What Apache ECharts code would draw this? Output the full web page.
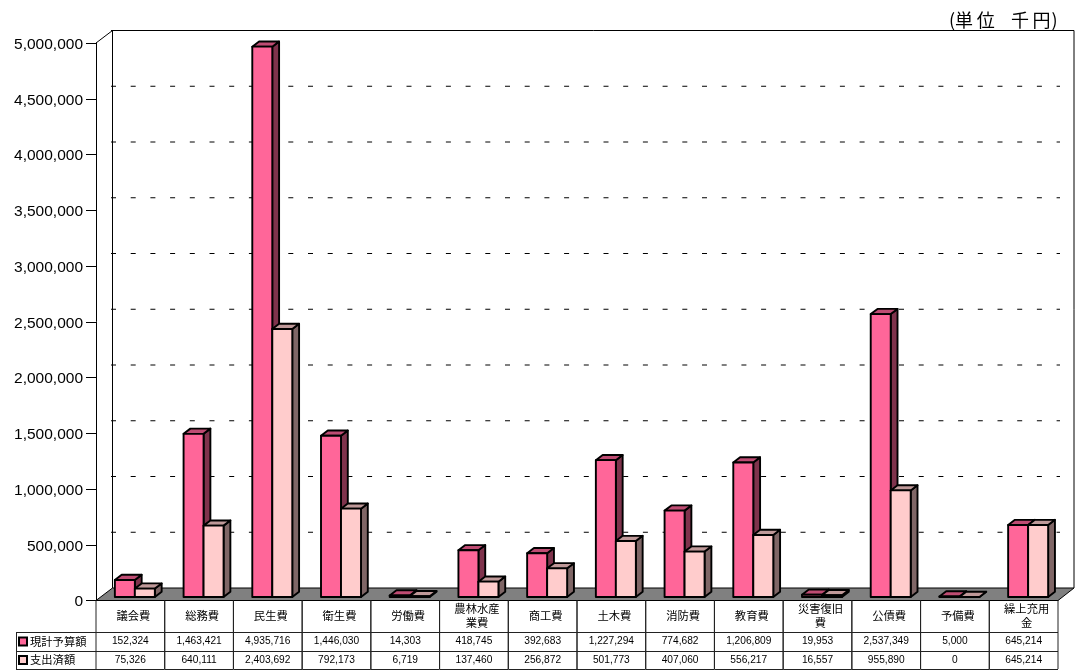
<!DOCTYPE html>
<html><head><meta charset="utf-8">
<style>html,body{margin:0;padding:0;background:#fff}#c{width:1081px;height:670px}</style>
<script src="https://cdn.jsdelivr.net/npm/echarts@6/dist/echarts.min.js"></script>
</head><body><div id="c"></div>
<script>
const categories = ['議会費','総務費','民生費','衛生費','労働費','農林水産\n業費','商工費','土木費','消防費','教育費','災害復旧\n費','公債費','予備費','繰上充用\n金'];
const budget = [152324,1463421,4935716,1446030,14303,418745,392683,1227294,774682,1206809,19953,2537349,5000,645214];
const spent = [75326,640111,2403692,792173,6719,137460,256872,501773,407060,556217,16557,955890,0,645214];
const yTicks = [500000,1000000,1500000,2000000,2500000,3000000,3500000,4000000,4500000,5000000];
const seriesNames = ['現計予算額','支出済額'];
const unitLabel = '(単\u2009位\u2002\u2009\u2009千\u2009円\u200a)';
const LATIN = '"Liberation Sans", Arial, sans-serif';
const CJK = '"Noto Sans CJK JP", sans-serif';
const WALL_DX = 16, WALL_DY = -12.5;
const fmt = v => v.toLocaleString('en-US');

function bar3d(seriesIdx, colors) {
  return function (params, api) {
    const i = api.value(0), val = api.value(1);
    const band = api.size([1, 0])[0];
    const w = band * 0.291, dep = 4.5, depY = -3.5, bx = 6.8, by = -5.2;
    const c = api.coord([i, val]), z = api.coord([i, 0]);
    const x0 = c[0] + dep + (seriesIdx === 0 ? -w : 0), x1 = x0 + w;
    const yT = c[1] + depY, yB = z[1] + depY;
    const st = f => ({ fill: f, stroke: '#000', lineWidth: 1.9, lineJoin: 'round' });
    return { type: 'group', children: [
      { type: 'polygon', shape: { points: [[x1, yT], [x1 + bx, yT + by], [x1 + bx, yB + by], [x1, yB]] }, style: st(colors[1]) },
      { type: 'polygon', shape: { points: [[x0, yT], [x0 + bx, yT + by], [x1 + bx, yT + by], [x1, yT]] }, style: st(colors[2]) },
      { type: 'rect', shape: { x: x0, y: yT, width: w, height: yB - yT }, style: st(colors[0]) }
    ] };
  };
}

function renderWall(params, api) {
  const cs = params.coordSys;
  const y0 = api.coord([0, 0])[1], yTop = api.coord([0, 5000000])[1];
  const lx = Math.round(cs.x + WALL_DX) + 0.5, rx = cs.x + cs.width + WALL_DX;
  const backY0 = y0 + WALL_DY, backTop = yTop + WALL_DY;
  const ln = { stroke: '#000', lineWidth: 1, fill: null };
  return { type: 'group', children: [
    { type: 'polygon', shape: { points: [[cs.x, y0], [cs.x + cs.width, y0], [rx, backY0], [lx, backY0]] }, style: { fill: '#808080', stroke: '#000', lineWidth: 1 } },
    { type: 'polyline', shape: { points: [[lx, backY0], [lx, backTop], [rx, backTop], [rx, backY0]] }, style: ln },
    { type: 'line', shape: { x1: cs.x, y1: yTop, x2: lx, y2: backTop }, style: ln }
  ] };
}

function renderGrid(params, api) {
  const cs = params.coordSys;
  const y = api.coord([0, api.value(1)])[1] + WALL_DY;
  return { type: 'line', shape: { x1: cs.x + WALL_DX - 1, y1: y, x2: cs.x + cs.width + 2, y2: y },
    style: { stroke: '#000', lineWidth: 1, lineDash: [5, 14.7] } };
}

function renderTableCell(params, api) {
  const i = api.value(0), band = api.size([1, 0])[0];
  const c = api.coord([i, 0]);
  const top = c[1], r1 = 632, r2 = 651, r3 = 669;
  const lx = c[0] - band / 2, rx = c[0] + band / 2;
  const ln = { stroke: '#222', lineWidth: 1 };
  const kids = [
    { type: 'line', shape: { x1: lx, y1: top, x2: lx, y2: r3 }, style: ln },
    { type: 'line', shape: { x1: rx, y1: top, x2: rx, y2: r3 }, style: ln },
    { type: 'line', shape: { x1: lx, y1: r1 + .5, x2: rx, y2: r1 + .5 }, style: ln },
    { type: 'line', shape: { x1: lx, y1: r2 + .5, x2: rx, y2: r2 + .5 }, style: ln },
    { type: 'line', shape: { x1: lx, y1: r3 + .5, x2: rx, y2: r3 + .5 }, style: ln },
    { type: 'text', style: { text: fmt(budget[i]), x: c[0], y: 641.5, align: 'center', verticalAlign: 'middle', font: '10.2px ' + LATIN, fill: '#000' } },
    { type: 'text', style: { text: fmt(spent[i]), x: c[0], y: 660, align: 'center', verticalAlign: 'middle', font: '10.2px ' + LATIN, fill: '#000' } }
  ];
  if (i === 0) {
    [r1, r2, r3].forEach(y => kids.push({ type: 'line', shape: { x1: 16.5, y1: y + .5, x2: lx, y2: y + .5 }, style: ln }));
    kids.push({ type: 'line', shape: { x1: 16.5, y1: r1, x2: 16.5, y2: r3 + 1 }, style: ln });
  }
  return { type: 'group', children: kids };
}

const chart = echarts.init(document.getElementById('c'), null, { renderer: 'canvas' });
chart.setOption({
  animation: false,
  backgroundColor: '#fff',
  title: { text: unitLabel, left: 949, top: 11, padding: 0, textStyle: { fontFamily: CJK, fontSize: 18, fontWeight: 'normal', color: '#000' } },
  legend: { orient: 'vertical', left: 18, top: 634.5, padding: 0, itemWidth: 8, itemHeight: 8, itemGap: 4.5, selectedMode: false,
    data: seriesNames.map(n => ({ name: n, icon: 'rect' })),
    textStyle: { fontFamily: CJK, fontSize: 11.3, color: '#000', lineHeight: 14, padding: [0, 0, 0, -2] } },
  grid: { left: 96, width: 962, top: 43, height: 557.5 },
  xAxis: { type: 'category', data: categories, axisTick: { show: false },
    axisLine: { show: true, lineStyle: { color: '#000', width: 1 } },
    axisLabel: { interval: 0, margin: 15.5, verticalAlign: 'middle', fontFamily: CJK, fontSize: 11.3, lineHeight: 14, color: '#000', padding: [0, 0, 0, 6] } },
  yAxis: { type: 'value', min: 0, max: 5000000, interval: 500000,
    axisLine: { show: true, lineStyle: { color: '#000', width: 1 } },
    axisTick: { show: true, length: 10, lineStyle: { color: '#000', width: 1 } },
    splitLine: { show: false },
    axisLabel: { formatter: v => fmt(v), margin: 13, fontFamily: LATIN, fontSize: 15.5, color: '#000', verticalAlign: 'top', lineHeight: 3 } },
  series: [
    { type: 'custom', name: 'wall', z: 1, silent: true, renderItem: renderWall, data: [[0, 0]], encode: { x: 0, y: 1 } },
    { type: 'custom', name: 'grid', z: 2, silent: true, renderItem: renderGrid, data: yTicks.map(v => [0, v]), encode: { x: 0, y: 1 } },
    { type: 'custom', name: seriesNames[0], z: 3, renderItem: bar3d(0, ['#FF6699', '#7F334C', '#BF4C73']),
      itemStyle: { color: '#FF6699', borderColor: '#000', borderWidth: 1.2 },
      data: budget.map((v, i) => [i, v]), encode: { x: 0, y: 1 } },
    { type: 'custom', name: seriesNames[1], z: 4, renderItem: bar3d(1, ['#FFCCCC', '#7F6666', '#BF9999']),
      itemStyle: { color: '#FFCCCC', borderColor: '#000', borderWidth: 1.2 },
      data: spent.map((v, i) => [i, v]), encode: { x: 0, y: 1 } },
    { type: 'custom', name: 'table', z: 5, silent: true, renderItem: renderTableCell, data: categories.map((c, i) => [i, 0]), encode: { x: 0, y: 1 } }
  ]
});
</script></body></html>
